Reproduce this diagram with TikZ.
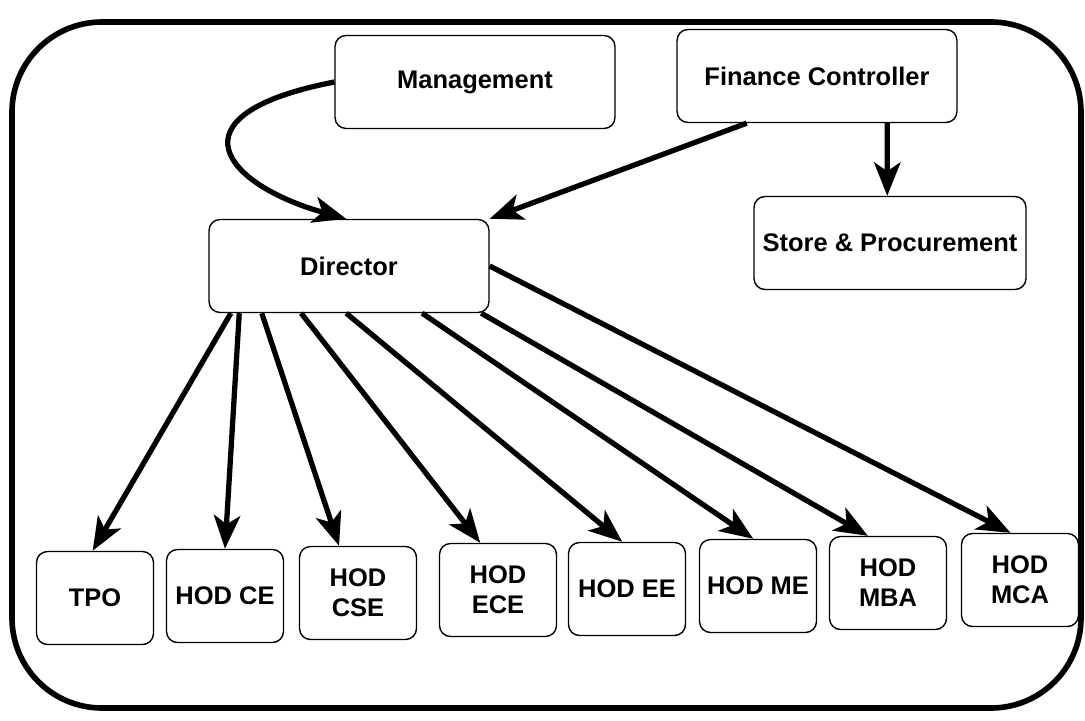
\documentclass[tikz,border=0pt]{standalone}
\usepackage{fontspec}
\setmainfont{Liberation Sans}
\usetikzlibrary{calc,arrows.meta}
\tikzset{
  box/.style={draw, rounded corners=0.22cm, line width=0.8pt, align=center, inner sep=0pt,
    font=\bfseries\fontsize{14.5}{17}\selectfont, minimum width=5.6cm, minimum height=1.86cm},
  hod/.style={box, minimum width=2.34cm},
  arr/.style={line width=3pt, -{Stealth[length=19pt,width=15pt,inset=5pt]}}
}

\begin{document}
\begin{tikzpicture}[x=0.02cm, y=-0.02cm]
\useasboundingbox (0,0) rectangle (1085,720);
% outer frame
\draw[line width=3.2pt, rounded corners=1.8cm] (12,22) rectangle (1081,708);

\node[box] (mgmt) at (475,82) {Management};
\node[box] (fin) at (817,76) {Finance Controller};
\node[box, minimum width=5.44cm] (store) at (890,243) {Store \& Procurement};
\node[box] (dir) at (349,266) {Director};

\node[hod] (tpo) at (95,598) {TPO};
\node[hod] (ce) at (225,596) {HOD CE};
\node[hod] (cse) at (358,593) {HOD\\CSE};
\node[hod] (ece) at (498,590) {HOD\\ECE};
\node[hod] (ee) at (627,589) {HOD EE};
\node[hod] (me) at (758,586) {HOD ME};
\node[hod] (mba) at (888,583) {HOD\\MBA};
\node[hod] (mca) at (1020,580) {HOD\\MCA};

\draw[arr] (mgmt.west) .. controls (165,115) and (225,185) .. ($(dir.north west)!0.49!(dir.north east)$);
\draw[arr] ($(fin.south west)!0.25!(fin.south east)$) -- (dir.north east);
\draw[arr] ($(fin.south west)!0.75!(fin.south east)$) -- ($(store.north west)!0.49!(store.north east)$);

\foreach \h/\a/\b in {tpo/0.08/0.48, ce/0.11/0.5, cse/0.19/0.34, ece/0.33/0.35,
                      ee/0.49/0.46, me/0.76/0.46, mba/0.97/0.33}
  \draw[arr] ($(dir.south west)!\a!(dir.south east)$) -- ($(\h.north west)!\b!(\h.north east)$);
\draw[arr] (dir.east) -- ($(mca.north west)!0.42!(mca.north east)$);
\end{tikzpicture}
\end{document}
